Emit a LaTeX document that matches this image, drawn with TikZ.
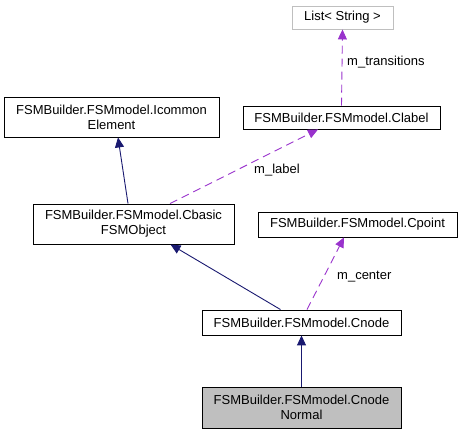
\documentclass[tikz,border=0pt]{standalone}
\usepackage{fontspec}
\setmainfont{Liberation Sans}
\usetikzlibrary{arrows.meta, positioning, calc}
\definecolor{edgeblue}{RGB}{25,25,112}
\definecolor{edgepurple}{RGB}{153,50,204}
\definecolor{boxgray}{RGB}{191,191,191}

\begin{document}
\begin{tikzpicture}[x=1pt, y=-1pt,
        cls/.style={draw, line width=0.9pt, align=center, inner sep=0pt,
            font=\fontsize{13}{15}\selectfont, minimum height=25pt},
        inherit/.style={-{Triangle[length=10pt, width=9pt]}, line width=0.9pt, draw=edgeblue},
        usage/.style={-{Triangle[length=10pt, width=9pt]}, line width=0.9pt, draw=edgepurple,
            dash pattern=on 8pt off 5pt},
        lbl/.style={font=\fontsize{13}{15}\selectfont, inner sep=0pt},
    ]
    \useasboundingbox (0,0) rectangle (463,435);
    % classes
    \node[cls, draw=boxgray, minimum width=101pt, minimum height=23pt] (list) at (342.5,17.5) {List< String >};
    \node[cls, minimum width=197pt, minimum height=23pt] (clabel) at (341.5,117.5) {FSMBuilder.FSMmodel.Clabel};
    \node[cls, minimum width=215pt, minimum height=40pt] (icommon) at (111.5,117) {FSMBuilder.FSMmodel.Icommon\\Element};
    \node[cls, minimum width=201pt, minimum height=40pt] (cbasic) at (133.5,224) {FSMBuilder.FSMmodel.Cbasic\\FSMObject};
    \node[cls, minimum width=199pt] (cpoint) at (357.5,224.5) {FSMBuilder.FSMmodel.Cpoint};
    \node[cls, minimum width=199pt] (cnode) at (301.5,322.5) {FSMBuilder.FSMmodel.Cnode};
    \node[cls, fill=boxgray, minimum width=199pt, minimum height=41pt] (normal) at (301.5,407.5) {FSMBuilder.FSMmodel.Cnode\\Normal};
    % inheritance
    \draw[inherit] (normal.north) -- (cnode.south);
    \draw[inherit] ([xshift=-21pt]cnode.north) -- ([xshift=37pt]cbasic.south);
    \draw[inherit] ([xshift=-5.5pt]cbasic.north) -- ([xshift=6.5pt]icommon.south);
    % members
    \draw[usage] ([xshift=5.5pt]cnode.north) -- ([xshift=-13.5pt]cpoint.south);
    \draw[usage] ([xshift=36.5pt]cbasic.north) -- ([xshift=-23.5pt]clabel.south);
    \draw[usage] (clabel.north) -- (list.south);
    \node[lbl, anchor=west] (lcenter) at (337,277) {m\_center};
    \node[lbl] (llabel) at (277,170) {m\_label};
    \node[lbl, anchor=west] (ltrans) at (347,62) {m\_transitions};
\end{tikzpicture}
\end{document}
